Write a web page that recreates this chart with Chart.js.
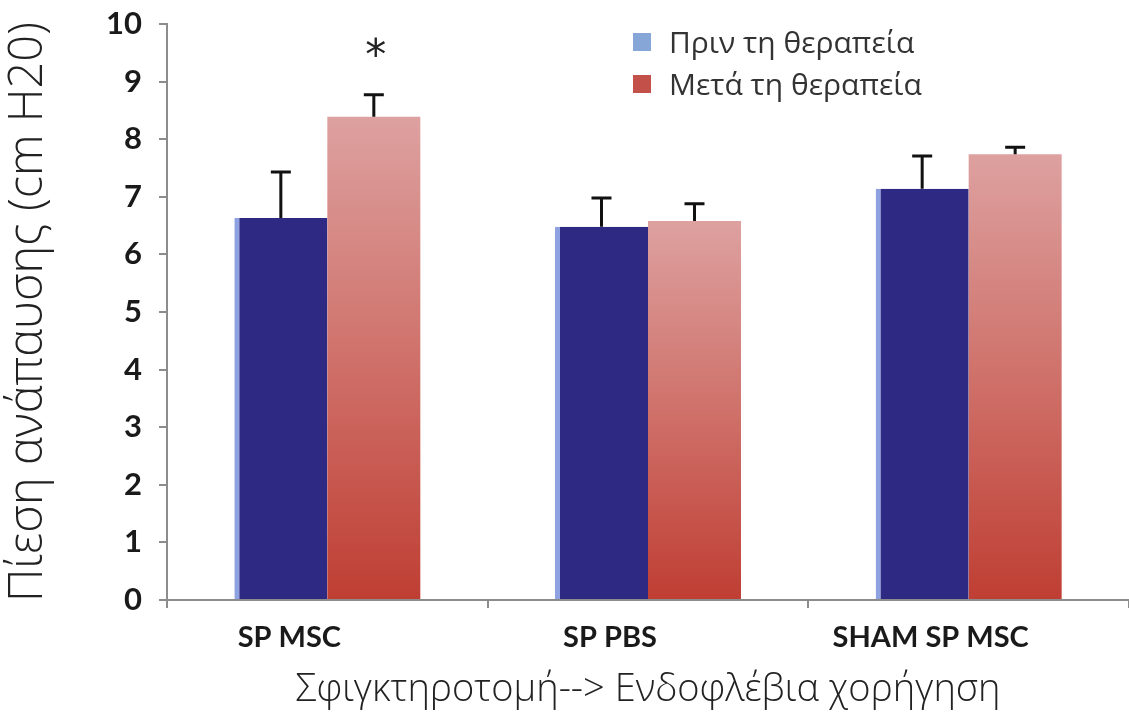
<!DOCTYPE html>
<html>
<head>
<meta charset="utf-8">
<script src="https://cdn.jsdelivr.net/npm/chart.js@4.4.1/dist/chart.umd.min.js"></script>
<style>
  body { margin: 0; background: #fff; }
  #wrap { position: relative; width: 1129px; height: 713px; }
  #legend { position: absolute; left: 633px; top: 21px; font-family: 'Open Sans', sans-serif; font-size: 30px; color: #333; line-height: 42px; }
  #legend .item { display: flex; align-items: center; white-space: nowrap; }
  #legend .box { width: 18px; height: 18px; margin-right: 18px; }
</style>
</head>
<body>
<div id="wrap">
  <canvas id="barChart" width="1129" height="713"></canvas>
  <div id="legend"></div>
</div>
<script>
'use strict';

const categories = ['SP MSC', 'SP PBS', 'SHAM SP MSC'];
const seriesNames = ['Πριν τη θεραπεία', 'Μετά τη θεραπεία'];
const beforeValues = [6.63, 6.48, 7.14];
const afterValues = [8.39, 6.58, 7.74];
const beforeErrors = [0.80, 0.50, 0.57];
const afterErrors = [0.38, 0.30, 0.12];
const yTicks = [0, 1, 2, 3, 4, 5, 6, 7, 8, 9, 10];
const starred = [[1, 0]]; // dataset, index  -> '*'

// legend (html)
const legendColors = ['#86a6d8', '#c4504a'];
document.getElementById('legend').innerHTML = seriesNames.map(function (name, i) {
  return '<div class="item"><span class="box" style="background:' + legendColors[i] + '"></span>' + name + '</div>';
}).join('');

// red bars fade from pink at the top to red at the bottom
function redGradient(ctx) {
  const chart = ctx.chart;
  if (!chart.chartArea || ctx.type !== 'data') return '#c9544d';
  const y = chart.scales.y;
  const top = y.getPixelForValue(ctx.raw);
  const bottom = y.getPixelForValue(0);
  const g = chart.ctx.createLinearGradient(0, top, 0, bottom);
  g.addColorStop(0, '#dda1a0');
  g.addColorStop(0.5, '#cf716a');
  g.addColorStop(1, '#bf3e33');
  return g;
}

const errorBars = {
  id: 'errorBars',
  afterDatasetsDraw(chart) {
    const ctx = chart.ctx;
    const y = chart.scales.y;
    [beforeErrors, afterErrors].forEach(function (errs, di) {
      const meta = chart.getDatasetMeta(di);
      meta.data.forEach(function (bar, i) {
        const top = y.getPixelForValue(chart.data.datasets[di].data[i] + errs[i]);
        ctx.save();
        ctx.strokeStyle = '#111';
        ctx.lineWidth = 3;
        ctx.beginPath();
        ctx.moveTo(bar.x, bar.y);
        ctx.lineTo(bar.x, top);
        ctx.moveTo(bar.x - 10, top);
        ctx.lineTo(bar.x + 10, top);
        ctx.stroke();
        ctx.restore();
      });
    });
    starred.forEach(function (s) {
      const bar = chart.getDatasetMeta(s[0]).data[s[1]];
      const errs = s[0] === 0 ? beforeErrors : afterErrors;
      const top = y.getPixelForValue(chart.data.datasets[s[0]].data[s[1]] + errs[s[1]]);
      ctx.save();
      ctx.fillStyle = '#222';
      ctx.font = '42px "DejaVu Sans"';
      ctx.textAlign = 'center';
      ctx.textBaseline = 'middle';
      ctx.fillText('*', bar.x + 2, top - 37);
      ctx.restore();
    });
  }
};

let context = document.querySelector('#barChart').getContext('2d');
new Chart(context, {
  type: 'bar',
  data: {
    labels: categories,
    datasets: [{
      label: seriesNames[0],
      data: beforeValues,
      backgroundColor: '#2e2a84',
      borderColor: '#8ea2e2',
      borderWidth: { left: 5, top: 0, right: 0, bottom: 0 },
      borderSkipped: false,
    }, {
      label: seriesNames[1],
      data: afterValues,
      backgroundColor: redGradient,
    }],
  },
  options: {
    responsive: false,
    animation: false,
    categoryPercentage: 0.58,
    barPercentage: 1.0,
    layout: { padding: { top: 24, right: 0, left: 0, bottom: 0 } },
    plugins: {
      legend: { display: false },
      tooltip: { enabled: false },
    },
    scales: {
      x: {
        afterFit: function (scale) { scale.height = 113; },
        grid: { drawOnChartArea: false, offset: true, tickLength: 8, color: '#8c8c8c', lineWidth: 2 },
        border: { color: '#8c8c8c', width: 2 },
        ticks: {
          labelOffset: -38,
          padding: 12,
          color: '#1a1a1a',
          font: { family: 'Lato', size: 29, weight: 'bold' },
        },
        title: {
          display: true,
          text: 'Σφιγκτηροτομή--> Ενδοφλέβια χορήγηση',
          color: '#222',
          font: { family: 'Open Sans', size: 38, weight: 300 },
          padding: { top: 0, bottom: 0 },
        },
      },
      y: {
        min: 0,
        max: 10,
        afterFit: function (scale) {
          scale.width = 167;
          scale.paddingTop = 0;
          scale.paddingBottom = 0;
        },
        afterBuildTicks: function (scale) { scale.ticks = yTicks.map(function (v) { return { value: v }; }); },
        grid: { drawOnChartArea: false, tickLength: 8, color: '#8c8c8c', lineWidth: 2 },
        border: { color: '#8c8c8c', width: 2 },
        ticks: {
          padding: 17,
          color: '#1a1a1a',
          font: { family: 'Lato', size: 31, weight: 'bold' },
        },
        title: {
          display: true,
          text: 'Πίεση ανάπαυσης (cm H20)',
          color: '#222',
          font: { family: 'Open Sans', size: 47, weight: 300 },
          padding: { top: 0, bottom: 0 },
        },
      },
    },
  },
  plugins: [errorBars],
});
</script>
</body>
</html>
